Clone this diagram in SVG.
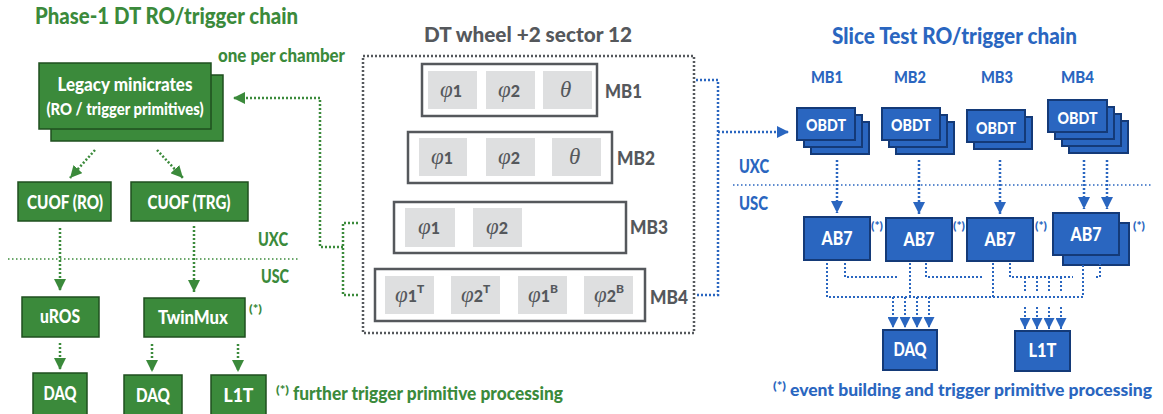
<svg xmlns="http://www.w3.org/2000/svg" width="1163" height="414" viewBox="0 0 1163 414">
<defs>
<style>
.t{font-family:Lato,"DejaVu Sans",sans-serif;font-weight:900}
.g{fill:#3b8a3b}
.b{fill:#2a66c0}
.gr{fill:#55585c}
.gbox{fill:#3b8a3b;stroke:#1f4f1f;stroke-width:1.5}
.bbox{fill:#2a66c0;stroke:#143a78;stroke-width:2}
.wt{fill:#ffffff;text-anchor:middle}
.ch{fill:#ffffff;stroke:#55585c;stroke-width:2.5}
.cell{fill:#dedfe0}
.phi{font-family:"Liberation Serif",serif;font-style:italic;font-size:23px;fill:#55585c}
.sub{font-family:Lato,"DejaVu Sans",sans-serif;font-style:normal;font-weight:900;font-size:16px;fill:#55585c}
.gl{fill:none;stroke:#3b8a3b;stroke-width:2.5;stroke-dasharray:2 2}
.bl{fill:none;stroke:#2a66c0;stroke-width:2.5;stroke-dasharray:2 2}
.bl2{fill:none;stroke:#2a66c0;stroke-width:2;stroke-dasharray:2 2}
.gyl{fill:none;stroke:#55585c;stroke-width:2.5;stroke-dasharray:2 2}
</style>
<marker id="ag" viewBox="0 0 10 10" refX="10" refY="5" markerWidth="12" markerHeight="12" markerUnits="userSpaceOnUse" orient="auto"><path d="M0,0 L10,5 L0,10 z" fill="#3b8a3b"/></marker>
<marker id="ab" viewBox="0 0 10 10" refX="10" refY="5" markerWidth="12" markerHeight="12" markerUnits="userSpaceOnUse" orient="auto"><path d="M0,0 L10,5 L0,10 z" fill="#2a66c0"/></marker>
<marker id="ab2" viewBox="0 0 10 10" refX="10" refY="5" markerWidth="11" markerHeight="11" markerUnits="userSpaceOnUse" orient="auto"><path d="M0,0 L10,5 L0,10 z" fill="#2a66c0"/></marker>
</defs>
<rect width="1163" height="414" fill="#ffffff"/>

<!-- titles and labels -->
<text class="t g" x="35" y="24" font-size="23" textLength="263" lengthAdjust="spacingAndGlyphs">Phase-1 DT RO/trigger chain</text>
<text class="t g" x="218" y="62" font-size="18" textLength="127" lengthAdjust="spacingAndGlyphs">one per chamber</text>
<text class="t g" x="258" y="246" font-size="18" textLength="30" lengthAdjust="spacingAndGlyphs">UXC</text>
<text class="t g" x="261" y="283" font-size="18" textLength="28" lengthAdjust="spacingAndGlyphs">USC</text>
<text class="t g" x="249" y="313" font-size="12" textLength="13" lengthAdjust="spacingAndGlyphs">(*)</text>
<text class="t g" x="276" y="394" font-size="12" textLength="13" lengthAdjust="spacingAndGlyphs">(*)</text>
<text class="t g" x="293" y="400" font-size="19" textLength="270" lengthAdjust="spacingAndGlyphs">further trigger primitive processing</text>
<text class="t gr" x="424" y="42" font-size="21" textLength="208" lengthAdjust="spacingAndGlyphs">DT wheel +2 sector 12</text>
<text class="t b" x="832" y="44" font-size="23" textLength="245" lengthAdjust="spacingAndGlyphs">Slice Test RO/trigger chain</text>
<text class="t b" x="811" y="83" font-size="17" textLength="32" lengthAdjust="spacingAndGlyphs">MB1</text>
<text class="t b" x="894" y="83" font-size="17" textLength="32" lengthAdjust="spacingAndGlyphs">MB2</text>
<text class="t b" x="981" y="83" font-size="17" textLength="32" lengthAdjust="spacingAndGlyphs">MB3</text>
<text class="t b" x="1061" y="83" font-size="17" textLength="33" lengthAdjust="spacingAndGlyphs">MB4</text>
<text class="t b" x="739" y="173" font-size="18" textLength="30" lengthAdjust="spacingAndGlyphs">UXC</text>
<text class="t b" x="739" y="210" font-size="18" textLength="29" lengthAdjust="spacingAndGlyphs">USC</text>
<text class="t b" x="871" y="230" font-size="12" textLength="12" lengthAdjust="spacingAndGlyphs">(*)</text>
<text class="t b" x="953" y="230" font-size="12" textLength="12" lengthAdjust="spacingAndGlyphs">(*)</text>
<text class="t b" x="1035" y="230" font-size="12" textLength="12" lengthAdjust="spacingAndGlyphs">(*)</text>
<text class="t b" x="1133" y="230" font-size="12" textLength="12" lengthAdjust="spacingAndGlyphs">(*)</text>
<text class="t b" x="773" y="390" font-size="12" textLength="13" lengthAdjust="spacingAndGlyphs">(*)</text>
<text class="t b" x="790" y="396" font-size="17" textLength="362" lengthAdjust="spacingAndGlyphs">event building and trigger primitive processing</text>

<!-- separators -->
<line x1="8" y1="259" x2="298" y2="259" stroke="#3b8a3b" stroke-width="1.5" stroke-dasharray="1.5 2.5"/>
<line x1="733" y1="185" x2="1153" y2="185" stroke="#2a66c0" stroke-width="1.5" stroke-dasharray="1.5 2.5"/>

<!-- Phase-1 nodes -->
<g id="legacy">
<rect class="gbox" x="51" y="75" width="172" height="66"/>
<rect class="gbox" x="39" y="63" width="172" height="66"/>
<text class="t wt" x="125" y="91" font-size="19" textLength="135" lengthAdjust="spacingAndGlyphs">Legacy minicrates</text>
<text class="t wt" x="125" y="115" font-size="17" textLength="157" lengthAdjust="spacingAndGlyphs">(RO / trigger primitives)</text>
</g>
<g id="cuof-ro"><rect class="gbox" x="18" y="182" width="93" height="39"/><text class="t wt" x="65" y="209" font-size="19" textLength="76" lengthAdjust="spacingAndGlyphs">CUOF (RO)</text></g>
<g id="cuof-trg"><rect class="gbox" x="131" y="182" width="117" height="39"/><text class="t wt" x="189" y="209" font-size="19" textLength="83" lengthAdjust="spacingAndGlyphs">CUOF (TRG)</text></g>
<g id="uros"><rect class="gbox" x="22" y="297" width="77" height="40"/><text class="t wt" x="60" y="323" font-size="18" textLength="40" lengthAdjust="spacingAndGlyphs">uROS</text></g>
<g id="twinmux"><rect class="gbox" x="144" y="298" width="101" height="39"/><text class="t wt" x="193" y="324" font-size="18" textLength="70" lengthAdjust="spacingAndGlyphs">TwinMux</text></g>
<g id="daq-ro"><rect class="gbox" x="33" y="373" width="54" height="42"/><text class="t wt" x="60" y="400" font-size="19" textLength="33" lengthAdjust="spacingAndGlyphs">DAQ</text></g>
<g id="daq-trg"><rect class="gbox" x="124" y="375" width="58" height="42"/><text class="t wt" x="153" y="402" font-size="19" textLength="34" lengthAdjust="spacingAndGlyphs">DAQ</text></g>
<g id="l1t-trg"><rect class="gbox" x="211" y="375" width="55" height="42"/><text class="t wt" x="238.5" y="402" font-size="19" textLength="30" lengthAdjust="spacingAndGlyphs">L1T</text></g>

<!-- DT wheel -->
<g id="wheel">
<rect x="363" y="56" width="331" height="277" class="gyl"/>
</g>
<g id="mb1">
<rect class="ch" x="422" y="64" width="175" height="52"/>
<rect class="cell" x="428" y="71" width="49" height="38"/><rect class="cell" x="486" y="71" width="49" height="38"/><rect class="cell" x="543" y="71" width="49" height="38"/>
<text class="phi" x="440" y="97">φ<tspan class="sub">1</tspan></text>
<text class="phi" x="498" y="97">φ<tspan class="sub">2</tspan></text>
<text class="phi" x="560" y="97">θ</text>
<text class="t gr" x="605" y="98" font-size="19" textLength="37" lengthAdjust="spacingAndGlyphs">MB1</text>
</g>
<g id="mb2">
<rect class="ch" x="408" y="132" width="204" height="51"/>
<rect class="cell" x="419" y="138" width="48" height="38"/><rect class="cell" x="486" y="138" width="49" height="38"/><rect class="cell" x="552" y="138" width="49" height="38"/>
<text class="phi" x="431" y="164">φ<tspan class="sub">1</tspan></text>
<text class="phi" x="498" y="164">φ<tspan class="sub">2</tspan></text>
<text class="phi" x="569" y="164">θ</text>
<text class="t gr" x="617" y="165" font-size="19" textLength="38" lengthAdjust="spacingAndGlyphs">MB2</text>
</g>
<g id="mb3">
<rect class="ch" x="394" y="202" width="232" height="51"/>
<rect class="cell" x="405" y="208" width="50" height="39"/><rect class="cell" x="473" y="208" width="49" height="39"/>
<text class="phi" x="418" y="234">φ<tspan class="sub">1</tspan></text>
<text class="phi" x="486" y="234">φ<tspan class="sub">2</tspan></text>
<text class="t gr" x="630" y="234" font-size="19" textLength="38" lengthAdjust="spacingAndGlyphs">MB3</text>
</g>
<g id="mb4">
<rect class="ch" x="375" y="269" width="270" height="52"/>
<rect class="cell" x="385" y="276" width="49" height="38"/><rect class="cell" x="451" y="276" width="49" height="38"/><rect class="cell" x="518" y="276" width="49" height="38"/><rect class="cell" x="584" y="276" width="49" height="38"/>
<text class="phi" x="395" y="302">φ<tspan class="sub">1<tspan font-size="12" dy="-9">T</tspan></tspan></text>
<text class="phi" x="461" y="302">φ<tspan class="sub">2<tspan font-size="12" dy="-9">T</tspan></tspan></text>
<text class="phi" x="528" y="302">φ<tspan class="sub">1<tspan font-size="12" dy="-9">B</tspan></tspan></text>
<text class="phi" x="594" y="302">φ<tspan class="sub">2<tspan font-size="12" dy="-9">B</tspan></tspan></text>
<text class="t gr" x="650" y="304" font-size="19" textLength="38" lengthAdjust="spacingAndGlyphs">MB4</text>
</g>

<!-- Slice test nodes -->
<g id="obdt1">
<rect class="bbox" x="811" y="122" width="58" height="32"/><rect class="bbox" x="804" y="115" width="58" height="32"/><rect class="bbox" x="797" y="108" width="58" height="32"/>
<text class="t wt" x="826" y="131" font-size="17" textLength="40" lengthAdjust="spacingAndGlyphs">OBDT</text>
</g>
<g id="obdt2">
<rect class="bbox" x="896" y="122" width="58" height="32"/><rect class="bbox" x="889" y="115" width="58" height="32"/><rect class="bbox" x="882" y="108" width="58" height="32"/>
<text class="t wt" x="911" y="131" font-size="17" textLength="40" lengthAdjust="spacingAndGlyphs">OBDT</text>
</g>
<g id="obdt3">
<rect class="bbox" x="974" y="117" width="58" height="32"/><rect class="bbox" x="967" y="110" width="58" height="32"/>
<text class="t wt" x="996" y="134" font-size="17" textLength="40" lengthAdjust="spacingAndGlyphs">OBDT</text>
</g>
<g id="obdt4">
<rect class="bbox" x="1069" y="121" width="59" height="32"/><rect class="bbox" x="1062" y="114" width="59" height="32"/><rect class="bbox" x="1055" y="107" width="59" height="32"/><rect class="bbox" x="1048" y="100" width="59" height="32"/>
<text class="t wt" x="1077.5" y="124" font-size="17" textLength="40" lengthAdjust="spacingAndGlyphs">OBDT</text>
</g>
<g id="ab7-1"><rect class="bbox" x="804" y="217" width="66" height="43"/><text class="t wt" x="837" y="245" font-size="18" textLength="31" lengthAdjust="spacingAndGlyphs">AB7</text></g>
<g id="ab7-2"><rect class="bbox" x="886" y="218" width="66" height="43"/><text class="t wt" x="919" y="246" font-size="18" textLength="31" lengthAdjust="spacingAndGlyphs">AB7</text></g>
<g id="ab7-3"><rect class="bbox" x="967" y="218" width="66" height="43"/><text class="t wt" x="1000" y="246" font-size="18" textLength="31" lengthAdjust="spacingAndGlyphs">AB7</text></g>
<g id="ab7-4"><rect class="bbox" x="1063" y="223" width="66" height="42"/><rect class="bbox" x="1053" y="213" width="66" height="42"/><text class="t wt" x="1086" y="241" font-size="18" textLength="31" lengthAdjust="spacingAndGlyphs">AB7</text></g>
<g id="daq-st"><rect class="bbox" x="883" y="330" width="54" height="40"/><text class="t wt" x="910" y="356" font-size="18" textLength="33" lengthAdjust="spacingAndGlyphs">DAQ</text></g>
<g id="l1t-st"><rect class="bbox" x="1015" y="331" width="55" height="40"/><text class="t wt" x="1042.5" y="357" font-size="18" textLength="28" lengthAdjust="spacingAndGlyphs">L1T</text></g>

<!-- connectors -->
<g id="connectors">
<path class="gl" d="M358,223 H343 V295 H358 M343,247 H320 V98 H233" marker-end="url(#ag)"/>
<line class="gl" x1="95" y1="150" x2="70" y2="178" marker-end="url(#ag)"/>
<line class="gl" x1="157" y1="150" x2="183" y2="178" marker-end="url(#ag)"/>
<line class="gl" x1="60" y1="228" x2="60" y2="291" marker-end="url(#ag)"/>
<line class="gl" x1="194" y1="226" x2="194" y2="292" marker-end="url(#ag)"/>
<line class="gl" x1="60" y1="343" x2="60" y2="370" marker-end="url(#ag)"/>
<line class="gl" x1="152" y1="344" x2="152" y2="372" marker-end="url(#ag)"/>
<line class="gl" x1="238" y1="344" x2="238" y2="372" marker-end="url(#ag)"/>

<path class="bl" d="M696,80 H718 V295 H696"/>
<line class="bl" x1="718" y1="132" x2="789" y2="132" marker-end="url(#ab)"/>
<line class="bl" x1="837" y1="160" x2="837" y2="213" marker-end="url(#ab)"/>
<line class="bl" x1="919" y1="160" x2="919" y2="214" marker-end="url(#ab)"/>
<line class="bl" x1="1000" y1="160" x2="1000" y2="214" marker-end="url(#ab)"/>
<line class="bl" x1="1084" y1="160" x2="1084" y2="209" marker-end="url(#ab)"/>
<line class="bl" x1="1107" y1="160" x2="1107" y2="209" marker-end="url(#ab)"/>

<path class="bl2" d="M827,263 V297 H1083 V263 M910,263 V297 M993,263 V297"/>
<path class="bl2" d="M845,263 V277 H898 M926,263 V277 H983 M1010,263 V277 H1073 M1100,263 V277 H1095"/>
<line class="bl2" x1="893" y1="297" x2="893" y2="328" marker-end="url(#ab2)"/>
<line class="bl2" x1="905" y1="297" x2="905" y2="328" marker-end="url(#ab2)"/>
<line class="bl2" x1="917" y1="297" x2="917" y2="328" marker-end="url(#ab2)"/>
<line class="bl2" x1="929" y1="297" x2="929" y2="328" marker-end="url(#ab2)"/>
<path class="bl2" d="M1025,277 V292 M1037,277 V292 M1049,277 V292 M1061,277 V292"/>
<line class="bl2" x1="1025" y1="307" x2="1025" y2="329" marker-end="url(#ab2)"/>
<line class="bl2" x1="1037" y1="307" x2="1037" y2="329" marker-end="url(#ab2)"/>
<line class="bl2" x1="1049" y1="307" x2="1049" y2="329" marker-end="url(#ab2)"/>
<line class="bl2" x1="1061" y1="307" x2="1061" y2="329" marker-end="url(#ab2)"/>
</g>
</svg>
